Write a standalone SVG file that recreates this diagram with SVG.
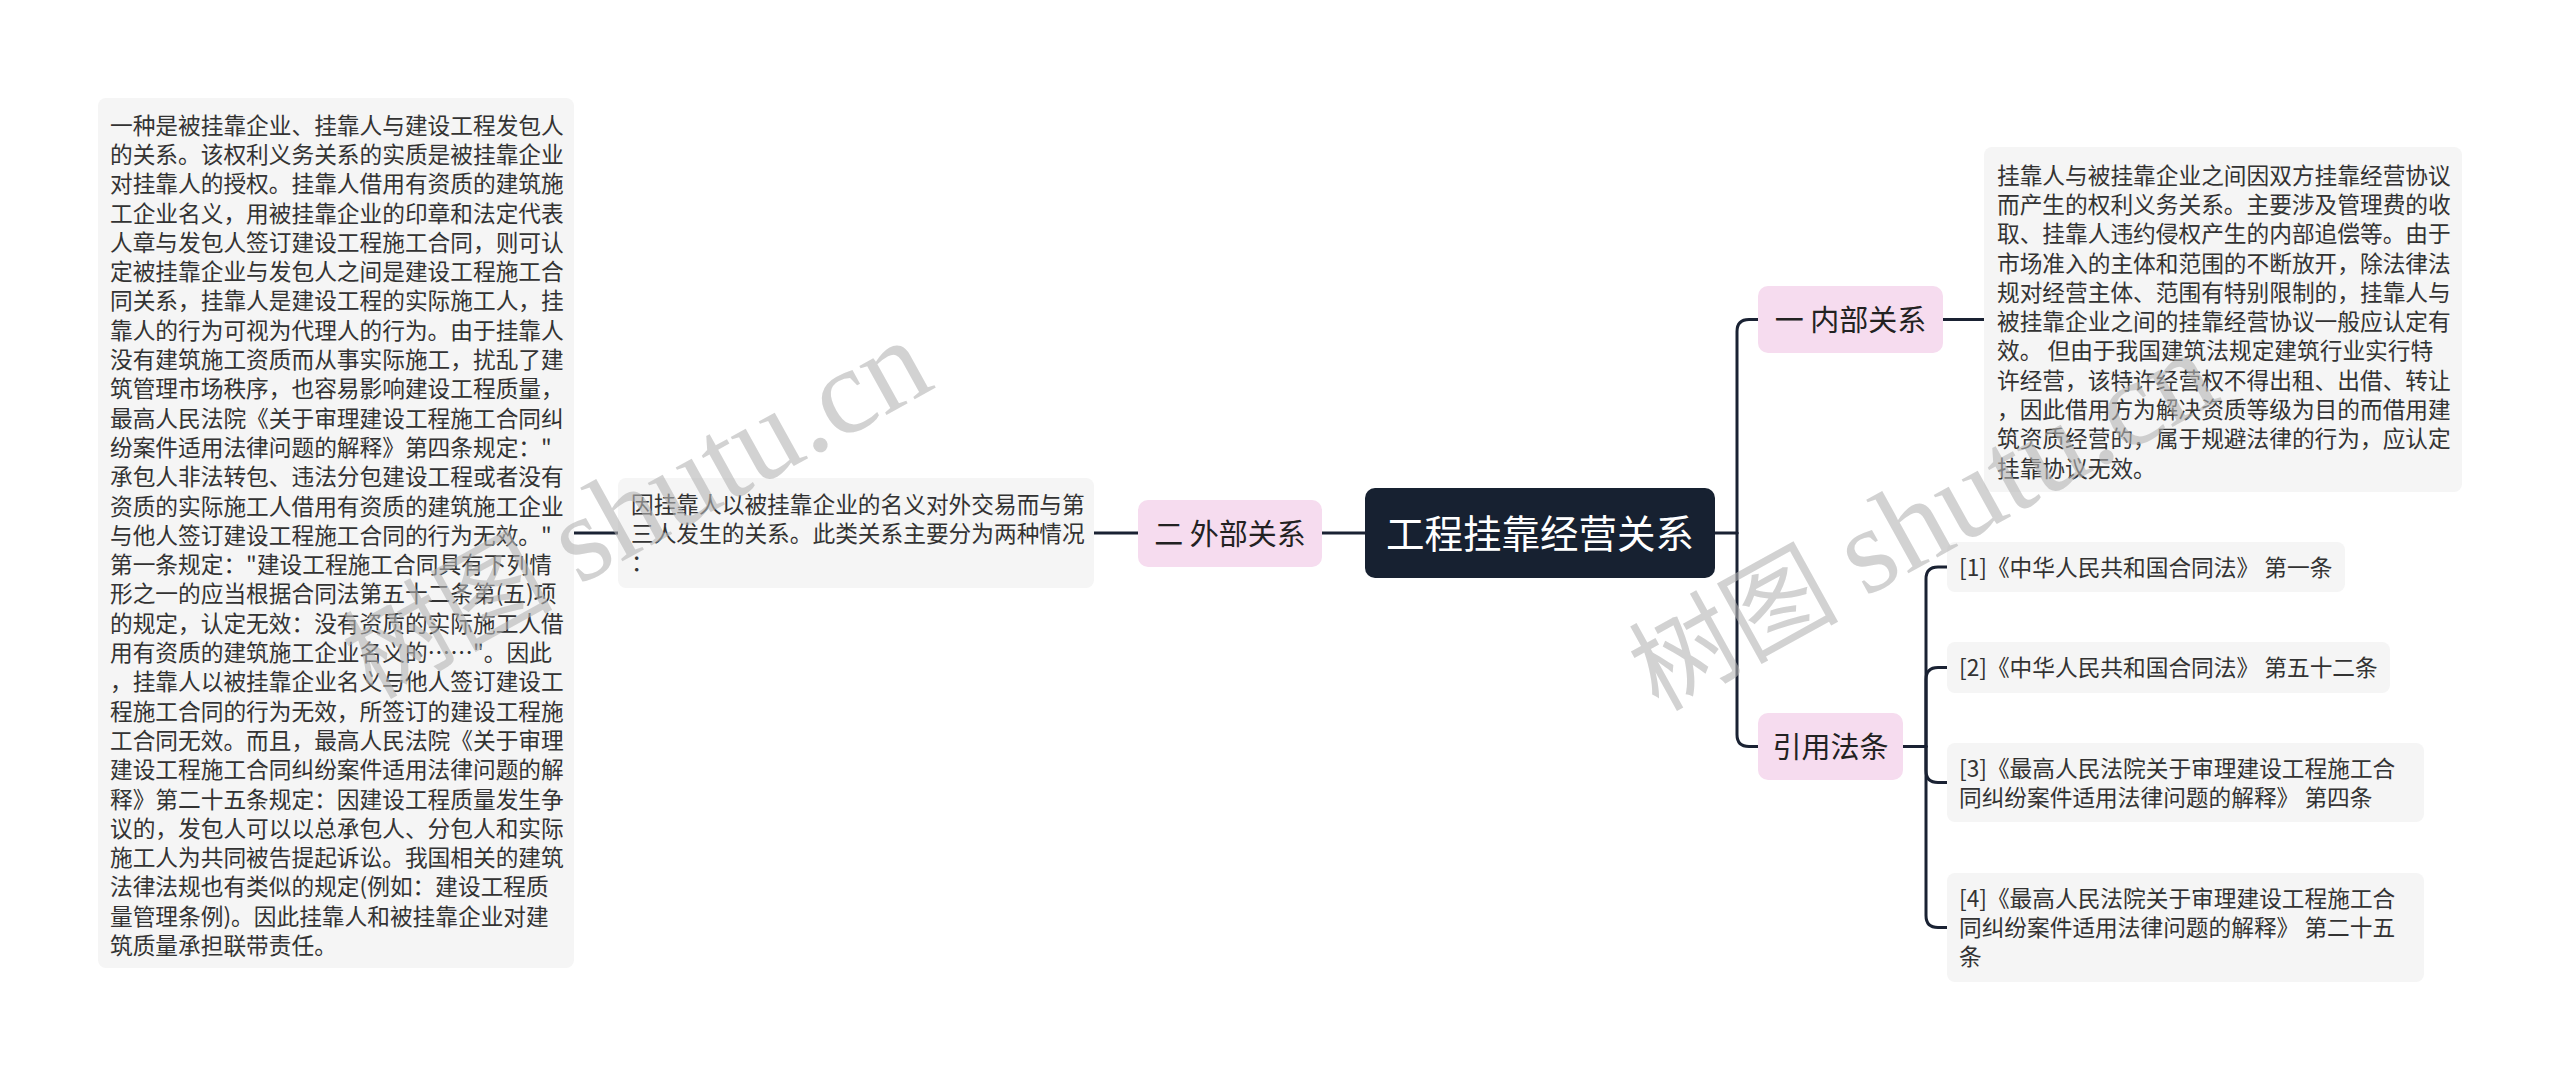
<svg xmlns="http://www.w3.org/2000/svg" width="2560" height="1080" viewBox="0 0 2560 1080">
<style>
.bg{fill:#ffffff}
.box{fill:#f5f5f5}
.pink{fill:#f6dcef}
.root{fill:#172131}
.t{font-family:"Noto Sans CJK SC","Noto Sans",sans-serif;font-size:22.7px;fill:#333333}
.l1{font-family:"Noto Sans CJK SC","Noto Sans",sans-serif;font-size:29px;fill:#222222;text-anchor:middle}
.rt{font-family:"Noto Sans CJK SC","Noto Sans",sans-serif;font-size:38.5px;fill:#ffffff;text-anchor:middle}
.conn{fill:none;stroke:#1a2233;stroke-width:3;stroke-linecap:round}
.wm{font-family:"Liberation Serif","Noto Sans CJK SC",serif;font-size:105px;fill:#b4b4b4;fill-opacity:0.6}
.wml{font-size:122px}
</style>
<rect class="bg" x="0" y="0" width="2560" height="1080"/>
<g id="connectors">
<path class="conn" d="M574,533 H618"/>
<path class="conn" d="M1094,533 H1138"/>
<path class="conn" d="M1322,533 H1365"/>
<path class="conn" d="M1715,533 H1737"/>
<path class="conn" d="M1737,533 V331.5 Q1737,319.5 1749,319.5 H1758"/>
<path class="conn" d="M1737,533 V734.5 Q1737,746.5 1749,746.5 H1758"/>
<path class="conn" d="M1943,319.5 H1984"/>
<path class="conn" d="M1903,746.5 H1926"/>
<path class="conn" d="M1926,746.5 V579 Q1926,567 1938,567 H1947"/>
<path class="conn" d="M1926,746.5 V679.5 Q1926,667.5 1938,667.5 H1947"/>
<path class="conn" d="M1926,746.5 V770.5 Q1926,782.5 1938,782.5 H1947"/>
<path class="conn" d="M1926,746.5 V915.5 Q1926,927.5 1938,927.5 H1947"/>
</g>
<g id="root">
<rect class="root" x="1365" y="488" width="350" height="90" rx="10"/>
<text class="rt" x="1540" y="547.6">工程挂靠经营关系</text>
</g>
<g id="n-external">
<rect class="pink" x="1138" y="500" width="184" height="67" rx="10"/>
<text class="l1" x="1230" y="544.5">二 外部关系</text>
</g>
<g id="n-external-desc">
<rect class="box" x="618" y="478" width="476" height="110" rx="8"/>
<text class="t" x="631"><tspan x="631" y="512.6">因挂靠人以被挂靠企业的名义对外交易而与第</tspan><tspan x="631" y="541.6">三人发生的关系。此类关系主要分为两种情况</tspan><tspan x="631" y="570.6">：</tspan></text>
</g>
<g id="n-external-detail">
<rect class="box" x="98" y="98" width="476" height="870" rx="8"/>
<text class="t" x="110">
<tspan x="110" y="133.6">一种是被挂靠企业、挂靠人与建设工程发包人</tspan>
<tspan x="110" y="162.9">的关系。该权利义务关系的实质是被挂靠企业</tspan>
<tspan x="110" y="192.2">对挂靠人的授权。挂靠人借用有资质的建筑施</tspan>
<tspan x="110" y="221.5">工企业名义，用被挂靠企业的印章和法定代表</tspan>
<tspan x="110" y="250.8">人章与发包人签订建设工程施工合同，则可认</tspan>
<tspan x="110" y="280.1">定被挂靠企业与发包人之间是建设工程施工合</tspan>
<tspan x="110" y="309.4">同关系，挂靠人是建设工程的实际施工人，挂</tspan>
<tspan x="110" y="338.7">靠人的行为可视为代理人的行为。由于挂靠人</tspan>
<tspan x="110" y="368.0">没有建筑施工资质而从事实际施工，扰乱了建</tspan>
<tspan x="110" y="397.3">筑管理市场秩序，也容易影响建设工程质量，</tspan>
<tspan x="110" y="426.6">最高人民法院《关于审理建设工程施工合同纠</tspan>
<tspan x="110" y="455.9">纷案件适用法律问题的解释》第四条规定："</tspan>
<tspan x="110" y="485.2">承包人非法转包、违法分包建设工程或者没有</tspan>
<tspan x="110" y="514.5">资质的实际施工人借用有资质的建筑施工企业</tspan>
<tspan x="110" y="543.8">与他人签订建设工程施工合同的行为无效。"</tspan>
<tspan x="110" y="573.1">第一条规定："建设工程施工合同具有下列情</tspan>
<tspan x="110" y="602.4">形之一的应当根据合同法第五十二条第(五)项</tspan>
<tspan x="110" y="631.7">的规定，认定无效：没有资质的实际施工人借</tspan>
<tspan x="110" y="661.0">用有资质的建筑施工企业名义的……"。因此</tspan>
<tspan x="110" y="690.3">，挂靠人以被挂靠企业名义与他人签订建设工</tspan>
<tspan x="110" y="719.6">程施工合同的行为无效，所签订的建设工程施</tspan>
<tspan x="110" y="748.9">工合同无效。而且，最高人民法院《关于审理</tspan>
<tspan x="110" y="778.2">建设工程施工合同纠纷案件适用法律问题的解</tspan>
<tspan x="110" y="807.5">释》第二十五条规定：因建设工程质量发生争</tspan>
<tspan x="110" y="836.8">议的，发包人可以以总承包人、分包人和实际</tspan>
<tspan x="110" y="866.1">施工人为共同被告提起诉讼。我国相关的建筑</tspan>
<tspan x="110" y="895.4">法律法规也有类似的规定(例如：建设工程质</tspan>
<tspan x="110" y="924.7">量管理条例)。因此挂靠人和被挂靠企业对建</tspan>
<tspan x="110" y="954.0">筑质量承担联带责任。</tspan>
</text>
</g>
<g id="n-internal">
<rect class="pink" x="1758" y="286" width="185" height="67" rx="10"/>
<text class="l1" x="1850.5" y="330.5">一 内部关系</text>
</g>
<g id="n-internal-desc">
<rect class="box" x="1984" y="147" width="478" height="345" rx="8"/>
<text class="t" x="1997">
<tspan x="1997" y="183.6">挂靠人与被挂靠企业之间因双方挂靠经营协议</tspan>
<tspan x="1997" y="212.9">而产生的权利义务关系。主要涉及管理费的收</tspan>
<tspan x="1997" y="242.2">取、挂靠人违约侵权产生的内部追偿等。由于</tspan>
<tspan x="1997" y="271.5">市场准入的主体和范围的不断放开，除法律法</tspan>
<tspan x="1997" y="300.8">规对经营主体、范围有特别限制的，挂靠人与</tspan>
<tspan x="1997" y="330.1">被挂靠企业之间的挂靠经营协议一般应认定有</tspan>
<tspan x="1997" y="359.4">效。 但由于我国建筑法规定建筑行业实行特</tspan>
<tspan x="1997" y="388.7">许经营，该特许经营权不得出租、出借、转让</tspan>
<tspan x="1997" y="418.0">，因此借用方为解决资质等级为目的而借用建</tspan>
<tspan x="1997" y="447.3">筑资质经营的，属于规避法律的行为，应认定</tspan>
<tspan x="1997" y="476.6">挂靠协议无效。</tspan>
</text>
</g>
<g id="n-laws">
<rect class="pink" x="1758" y="713" width="145" height="67" rx="10"/>
<text class="l1" x="1830.5" y="757.5">引用法条</text>
</g>
<g id="law-1">
<rect class="box" x="1947" y="542" width="398" height="50" rx="8"/>
<text class="t" x="1959" y="575.6">[1]《中华人民共和国合同法》 第一条</text>
</g>
<g id="law-2">
<rect class="box" x="1947" y="642" width="443" height="51" rx="8"/>
<text class="t" x="1959" y="676.1">[2]《中华人民共和国合同法》 第五十二条</text>
</g>
<g id="law-3">
<rect class="box" x="1947" y="743" width="477" height="79" rx="8"/>
<text class="t" x="1959"><tspan x="1959" y="776.6">[3]《最高人民法院关于审理建设工程施工合</tspan><tspan x="1959" y="805.9">同纠纷案件适用法律问题的解释》 第四条</tspan></text>
</g>
<g id="law-4">
<rect class="box" x="1947" y="873" width="477" height="109" rx="8"/>
<text class="t" x="1959"><tspan x="1959" y="906.6">[4]《最高人民法院关于审理建设工程施工合</tspan><tspan x="1959" y="935.9">同纠纷案件适用法律问题的解释》 第二十五</tspan><tspan x="1959" y="965.2">条</tspan></text>
</g>
<g id="watermarks">
<text class="wm" transform="translate(372,700) rotate(-29)">树图 <tspan class="wml">shutu.cn</tspan></text>
<text class="wm" transform="translate(1658,712) rotate(-29)">树图 <tspan class="wml">shutu.cn</tspan></text>
</g>
</svg>
